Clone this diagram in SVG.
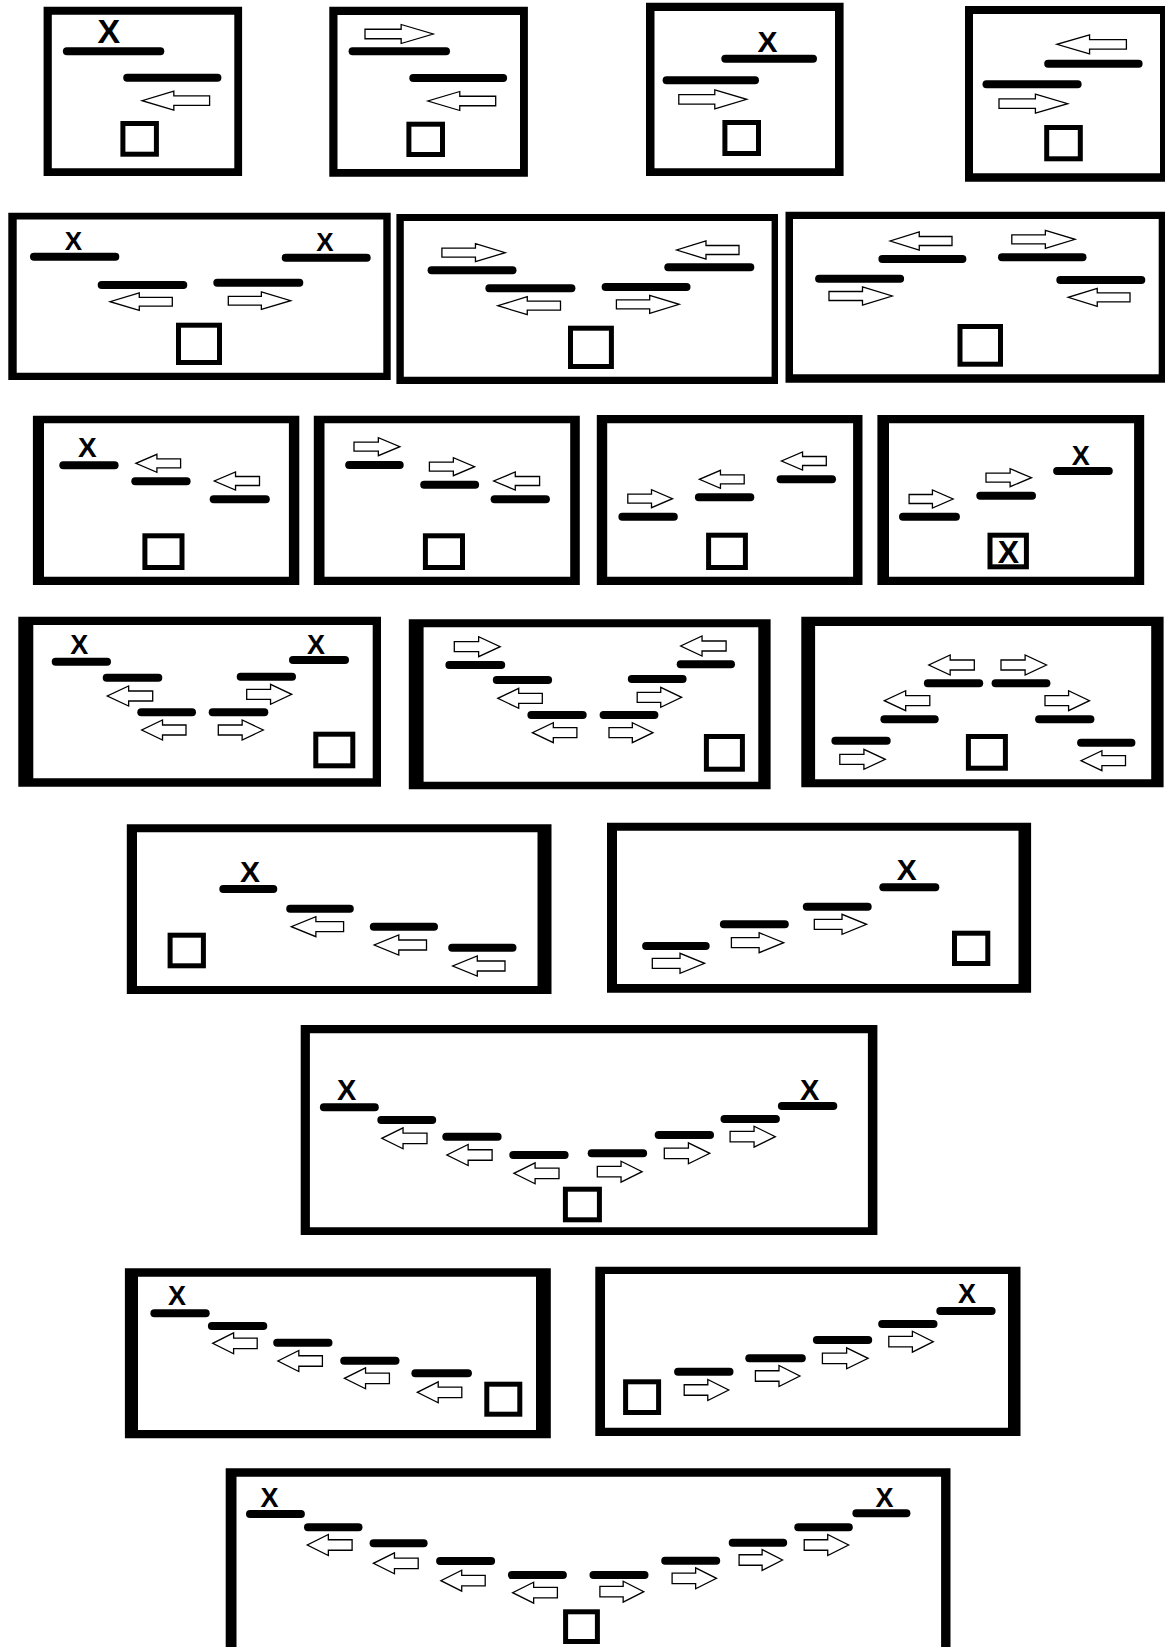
<svg xmlns="http://www.w3.org/2000/svg" xmlns:xlink="http://www.w3.org/1999/xlink" width="1165" height="1647" viewBox="0 0 1165 1647">
<style>
.f{fill:#000;fill-rule:evenodd}
.b{stroke:#000;stroke-width:8;stroke-linecap:round;fill:none}
.s{fill:#fff;stroke:#000;stroke-width:5}
.x{font-family:"Liberation Sans",Arial,sans-serif;font-weight:bold;fill:#000;text-anchor:middle}
</style>
<defs>
<path id="R" d="M0,-0.25 H0.53 V-0.5 L1,0 L0.53,0.5 V0.25 H0 Z" fill="#fff" stroke="#000" stroke-width="1.3" vector-effect="non-scaling-stroke"/>
<path id="L" d="M1,-0.25 H0.47 V-0.5 L0,0 L0.47,0.5 V0.25 H1 Z" fill="#fff" stroke="#000" stroke-width="1.3" vector-effect="non-scaling-stroke"/>
</defs>
<rect width="1165" height="1647" fill="#fff"/>

<g id="panel-1">
<path class="f" d="M43.6,6.7H242.1V176H43.6Z M51.8,14.7V168.3H234.3V14.7Z"/>
<text class="x" x="108.9" y="42.7" font-size="34">X</text>
<line class="b" x1="66.9" y1="51.3" x2="160.3" y2="51.3"/>
<line class="b" x1="127.2" y1="77.7" x2="217.4" y2="77.7"/>
<use href="#L" transform="translate(142.1,100.7) scale(67.5,19)"/>
<rect class="s" x="122.9" y="123.5" width="33.5" height="30.7"/>
</g>

<g id="panel-2">
<path class="f" d="M329.3,6.7H527.9V176.7H329.3Z M337.5,15V169H520V15Z"/>
<use href="#R" transform="translate(365,34) scale(68.2,19)"/>
<line class="b" x1="352.6" y1="51.3" x2="446" y2="51.3"/>
<line class="b" x1="413.3" y1="78" x2="503.1" y2="78"/>
<use href="#L" transform="translate(427.9,101) scale(67.8,19)"/>
<rect class="s" x="408.9" y="124.2" width="33.6" height="30.3"/>
</g>

<g id="panel-3">
<path class="f" d="M646,2.7H843.6V176H646Z M654.5,11V168.3H835V11Z"/>
<text class="x" x="767.6" y="51.7" font-size="30">X</text>
<line class="b" x1="725.3" y1="58.7" x2="813" y2="58.7"/>
<line class="b" x1="666.6" y1="80.3" x2="755" y2="80.3"/>
<use href="#R" transform="translate(678.8,99.3) scale(67.9,19)"/>
<rect class="s" x="724.9" y="122.5" width="33.6" height="31"/>
</g>

<g id="panel-4">
<path class="f" d="M965,6H1170V181.7H965Z M973,14V173.3H1160V14Z"/>
<use href="#L" transform="translate(1056.9,44.3) scale(69.5,19)"/>
<line class="b" x1="1048.2" y1="63.7" x2="1138.6" y2="63.7"/>
<line class="b" x1="986.5" y1="84.3" x2="1077.6" y2="84.3"/>
<use href="#R" transform="translate(999,103.7) scale(68.7,19)"/>
<rect class="s" x="1046.7" y="127.5" width="33.6" height="31.3"/>
</g>

<g id="panel-5">
<path class="f" d="M8.3,212.7H390.7V380H8.3Z M16.7,219.5V372.7H383.3V219.5Z"/>
<text class="x" x="73.3" y="250" font-size="26">X</text>
<text class="x" x="325" y="251" font-size="26">X</text>
<line class="b" x1="34" y1="256.7" x2="115.3" y2="256.7"/>
<line class="b" x1="285.7" y1="257.7" x2="366.7" y2="257.7"/>
<line class="b" x1="101.7" y1="285" x2="183.3" y2="285"/>
<line class="b" x1="217.3" y1="282.7" x2="299.3" y2="282.7"/>
<use href="#L" transform="translate(110,301.7) scale(62.3,17.5)"/>
<use href="#R" transform="translate(228.3,300.7) scale(62.4,17.5)"/>
<rect class="s" x="178.5" y="325.2" width="41" height="37.3"/>
</g>

<g id="panel-6">
<path class="f" d="M396.4,214H778V384H396.4Z M403.8,221V376.7H771.6V221Z"/>
<use href="#R" transform="translate(441.9,252.7) scale(63.3,18)"/>
<use href="#L" transform="translate(676.7,250) scale(62.3,18)"/>
<line class="b" x1="431.6" y1="270.3" x2="512.5" y2="270.3"/>
<line class="b" x1="668.3" y1="267.3" x2="750.3" y2="267.3"/>
<line class="b" x1="489.4" y1="288.3" x2="571.4" y2="288.3"/>
<line class="b" x1="605.6" y1="287" x2="686.5" y2="287"/>
<use href="#L" transform="translate(497.8,305.7) scale(62.7,18)"/>
<use href="#R" transform="translate(616.4,304.3) scale(62.8,18)"/>
<rect class="s" x="570.5" y="328.2" width="40.9" height="38.3"/>
</g>

<g id="panel-7">
<path class="f" d="M785.5,211.7H1170V382.7H785.5Z M793,219V374.3H1158.7V219Z"/>
<use href="#L" transform="translate(890.2,241) scale(61.8,18)"/>
<use href="#R" transform="translate(1011.8,239.3) scale(63.3,18)"/>
<line class="b" x1="882.4" y1="259" x2="962.4" y2="259"/>
<line class="b" x1="1002" y1="257.3" x2="1082.5" y2="257.3"/>
<line class="b" x1="819.1" y1="278.7" x2="900.1" y2="278.7"/>
<line class="b" x1="1060.3" y1="280" x2="1141.3" y2="280"/>
<use href="#R" transform="translate(829,296) scale(63.2,18)"/>
<use href="#L" transform="translate(1068.2,297.3) scale(61.8,18)"/>
<rect class="s" x="960" y="326.5" width="40.5" height="37.7"/>
</g>

<g id="panel-8">
<path class="f" d="M32.9,415.7H299.3V585H32.9Z M44,423.3V576.7H288.9V423.3Z"/>
<text class="x" x="87.3" y="457.3" font-size="28">X</text>
<line class="b" x1="63.3" y1="465.3" x2="114.6" y2="465.3"/>
<use href="#L" transform="translate(135.9,463.3) scale(44.7,18)"/>
<line class="b" x1="135.3" y1="481.3" x2="186.6" y2="481.3"/>
<use href="#L" transform="translate(214.3,481) scale(45.2,18)"/>
<line class="b" x1="213.7" y1="499.3" x2="265.8" y2="499.3"/>
<rect class="s" x="144.9" y="535.8" width="37.1" height="31.7"/>
</g>

<g id="panel-9">
<path class="f" d="M313.8,415.7H579.8V585H313.8Z M324.5,423.3V576.7H570.2V423.3Z"/>
<use href="#R" transform="translate(354,446.7) scale(45.9,18)"/>
<line class="b" x1="349.2" y1="465" x2="399.7" y2="465"/>
<use href="#R" transform="translate(429.4,466.7) scale(45.2,18)"/>
<line class="b" x1="424.2" y1="484.7" x2="475.1" y2="484.7"/>
<use href="#L" transform="translate(493.7,481) scale(45.9,18)"/>
<line class="b" x1="494.6" y1="499.3" x2="545.9" y2="499.3"/>
<rect class="s" x="425.4" y="535.8" width="37.1" height="31.7"/>
</g>

<g id="panel-10">
<path class="f" d="M596.8,415H862.5V585H596.8Z M607.2,423.3V576.7H853.1V423.3Z"/>
<use href="#R" transform="translate(627.8,498.7) scale(44.7,18)"/>
<line class="b" x1="622.4" y1="516.7" x2="673.8" y2="516.7"/>
<use href="#L" transform="translate(699.4,479.3) scale(44.8,18)"/>
<line class="b" x1="698.9" y1="497.3" x2="750.3" y2="497.3"/>
<use href="#L" transform="translate(781.5,461) scale(44.8,18)"/>
<line class="b" x1="780.6" y1="479.3" x2="832" y2="479.3"/>
<rect class="s" x="708.6" y="535.2" width="36.8" height="32.3"/>
</g>

<g id="panel-11">
<path class="f" d="M877.4,415H1144.2V585H877.4Z M889,423.3V576.7H1134.1V423.3Z"/>
<text class="x" x="1080.7" y="464.5" font-size="27">X</text>
<line class="b" x1="1057.1" y1="471" x2="1108.8" y2="471"/>
<use href="#R" transform="translate(986,477.7) scale(45.5,18)"/>
<line class="b" x1="980.3" y1="495.7" x2="1032" y2="495.7"/>
<use href="#R" transform="translate(909.1,499) scale(44,18)"/>
<line class="b" x1="903" y1="516.7" x2="955.9" y2="516.7"/>
<rect class="s" x="990" y="535.2" width="36.4" height="31.6"/>
<text class="x" x="1008.4" y="563.3" font-size="32">X</text>
</g>

<g id="panel-12">
<path class="f" d="M18.3,616.7H381V786.7H18.3Z M33.3,625V778.3H372.7V625Z"/>
<text class="x" x="79.3" y="654" font-size="27">X</text>
<text class="x" x="316" y="653.5" font-size="27">X</text>
<line class="b" x1="55.7" y1="661.7" x2="107" y2="661.7"/>
<line class="b" x1="106.7" y1="677.7" x2="158.3" y2="677.7"/>
<line class="b" x1="141.3" y1="712.3" x2="192" y2="712.3"/>
<line class="b" x1="212.7" y1="712.3" x2="264.3" y2="712.3"/>
<line class="b" x1="240.7" y1="676.7" x2="292" y2="676.7"/>
<line class="b" x1="293" y1="660" x2="345" y2="660"/>
<use href="#L" transform="translate(107.3,696) scale(45.4,20)"/>
<use href="#L" transform="translate(141.7,730) scale(44.3,20)"/>
<use href="#R" transform="translate(246.7,694.3) scale(45,20)"/>
<use href="#R" transform="translate(218.3,730) scale(45,20)"/>
<rect class="s" x="315.8" y="734.2" width="37" height="31.6"/>
</g>

<g id="panel-13">
<path class="f" d="M408.8,619.3H770.6V789.3H408.8Z M423.6,627.3V781.7H758.3V627.3Z"/>
<use href="#R" transform="translate(454.3,646.7) scale(45.9,20)"/>
<use href="#L" transform="translate(680.7,646) scale(45.4,20)"/>
<line class="b" x1="449.4" y1="665" x2="501.2" y2="665"/>
<line class="b" x1="496.8" y1="680" x2="548.1" y2="680"/>
<line class="b" x1="531.4" y1="715" x2="582.7" y2="715"/>
<line class="b" x1="603.6" y1="715" x2="654.4" y2="715"/>
<line class="b" x1="631.8" y1="679" x2="682.6" y2="679"/>
<line class="b" x1="680.7" y1="664.3" x2="731" y2="664.3"/>
<use href="#L" transform="translate(497.8,698.3) scale(44.5,20)"/>
<use href="#L" transform="translate(532.4,732.7) scale(44.5,20)"/>
<use href="#R" transform="translate(609,732.7) scale(44,20)"/>
<use href="#R" transform="translate(637.2,697.3) scale(44.4,20)"/>
<rect class="s" x="706.4" y="736.5" width="36" height="32.7"/>
</g>

<g id="panel-14">
<path class="f" d="M801.3,616.7H1163.6V787.3H801.3Z M815.1,626V779.3H1151.2V626Z"/>
<use href="#L" transform="translate(928.8,665) scale(45.5,20)"/>
<use href="#R" transform="translate(1001,665) scale(45.5,20)"/>
<line class="b" x1="927.9" y1="683.3" x2="979.2" y2="683.3"/>
<line class="b" x1="995.6" y1="683.3" x2="1046.4" y2="683.3"/>
<use href="#L" transform="translate(884.3,700.7) scale(45.5,20)"/>
<use href="#R" transform="translate(1045,700.7) scale(44.5,20)"/>
<line class="b" x1="884.4" y1="719.3" x2="934.7" y2="719.3"/>
<line class="b" x1="1039.1" y1="719.3" x2="1090.4" y2="719.3"/>
<line class="b" x1="835.4" y1="740.7" x2="886.7" y2="740.7"/>
<line class="b" x1="1081.1" y1="742.7" x2="1131.4" y2="742.7"/>
<use href="#R" transform="translate(839.8,759.3) scale(45.5,20)"/>
<use href="#L" transform="translate(1081,760.7) scale(44.5,20)"/>
<rect class="s" x="968.4" y="736.5" width="37" height="31.7"/>
</g>

<g id="panel-15">
<path class="f" d="M126.8,824.3H551.5V994H126.8Z M137,832.3V986H537.5V832.3Z"/>
<text class="x" x="249.9" y="881.7" font-size="30">X</text>
<line class="b" x1="223.3" y1="889" x2="273.3" y2="889"/>
<line class="b" x1="290.2" y1="908.7" x2="349.8" y2="908.7"/>
<use href="#L" transform="translate(291.3,926.7) scale(52.3,20)"/>
<line class="b" x1="373.8" y1="926.7" x2="434" y2="926.7"/>
<use href="#L" transform="translate(374.2,945) scale(52.3,20)"/>
<line class="b" x1="452.2" y1="947.7" x2="512.5" y2="947.7"/>
<use href="#L" transform="translate(452.7,966) scale(52.3,20)"/>
<rect class="s" x="170.1" y="935.2" width="33.3" height="30.6"/>
</g>

<g id="panel-16">
<path class="f" d="M607,822.7H1031.1V992.7H607Z M617,830.7V984H1018.5V830.7Z"/>
<text class="x" x="906.8" y="880" font-size="30">X</text>
<line class="b" x1="883.3" y1="887.3" x2="935.3" y2="887.3"/>
<line class="b" x1="806.8" y1="906.7" x2="867.7" y2="906.7"/>
<use href="#R" transform="translate(814.3,924.3) scale(52.3,20)"/>
<line class="b" x1="723.9" y1="924.3" x2="784.8" y2="924.3"/>
<use href="#R" transform="translate(731.4,942.7) scale(52.3,20)"/>
<line class="b" x1="646.1" y1="946" x2="705.7" y2="946"/>
<use href="#R" transform="translate(652.3,963.3) scale(52.3,20)"/>
<rect class="s" x="954.5" y="933.2" width="33.3" height="30.3"/>
</g>

<g id="panel-17">
<path class="f" d="M300.7,1025H877.4V1235H300.7Z M309.9,1033.3V1227.3H867.9V1033.3Z"/>
<text class="x" x="346.6" y="1100" font-size="29">X</text>
<text class="x" x="809.7" y="1100" font-size="29">X</text>
<line class="b" x1="323.9" y1="1107.3" x2="374.8" y2="1107.3"/>
<line class="b" x1="381.3" y1="1120" x2="432.2" y2="1120"/>
<line class="b" x1="446.3" y1="1136.7" x2="497.6" y2="1136.7"/>
<line class="b" x1="513.3" y1="1155" x2="564.6" y2="1155"/>
<line class="b" x1="591.7" y1="1153.3" x2="643.1" y2="1153.3"/>
<line class="b" x1="658.7" y1="1135" x2="710" y2="1135"/>
<line class="b" x1="724.5" y1="1119" x2="775.9" y2="1119"/>
<line class="b" x1="781.9" y1="1106" x2="833.3" y2="1106"/>
<use href="#L" transform="translate(381.8,1138.3) scale(45.2,21)"/>
<use href="#L" transform="translate(446.9,1155) scale(45.2,21)"/>
<use href="#L" transform="translate(513.9,1173.3) scale(45.1,21)"/>
<use href="#R" transform="translate(597.3,1171.7) scale(44.8,21)"/>
<use href="#R" transform="translate(664.3,1153.3) scale(45.5,21)"/>
<use href="#R" transform="translate(730.1,1136.7) scale(45.2,21)"/>
<rect class="s" x="565.4" y="1189.2" width="34" height="30.6"/>
</g>

<g id="panel-18">
<path class="f" d="M124.9,1268.3H550.8V1438.3H124.9Z M138,1276.7V1430H536V1276.7Z"/>
<text class="x" x="177.1" y="1305" font-size="27">X</text>
<line class="b" x1="154.4" y1="1313.3" x2="205.7" y2="1313.3"/>
<line class="b" x1="211.9" y1="1326" x2="263.3" y2="1326"/>
<line class="b" x1="277.2" y1="1342.7" x2="328.5" y2="1342.7"/>
<line class="b" x1="344.2" y1="1360.7" x2="395.5" y2="1360.7"/>
<line class="b" x1="415.4" y1="1373.3" x2="467.9" y2="1373.3"/>
<use href="#L" transform="translate(212.7,1343.3) scale(44.5,21)"/>
<use href="#L" transform="translate(277.9,1361) scale(44.5,21)"/>
<use href="#L" transform="translate(344.4,1378.3) scale(45,21)"/>
<use href="#L" transform="translate(417.3,1392.3) scale(44.5,21)"/>
<rect class="s" x="486.8" y="1384.2" width="33" height="30"/>
</g>

<g id="panel-19">
<path class="f" d="M595.3,1266.7H1020.5V1436H595.3Z M605,1274V1427.7H1008V1274Z"/>
<text class="x" x="967.1" y="1303.3" font-size="27">X</text>
<line class="b" x1="940.3" y1="1311" x2="991.6" y2="1311"/>
<line class="b" x1="882.2" y1="1324" x2="933.5" y2="1324"/>
<line class="b" x1="816.9" y1="1340" x2="868.2" y2="1340"/>
<line class="b" x1="749.3" y1="1358.3" x2="801.8" y2="1358.3"/>
<line class="b" x1="678.1" y1="1371.7" x2="729.5" y2="1371.7"/>
<use href="#R" transform="translate(888.8,1341.7) scale(44.5,21)"/>
<use href="#R" transform="translate(822.4,1358.3) scale(45.7,21)"/>
<use href="#R" transform="translate(755.4,1376) scale(44.5,21)"/>
<use href="#R" transform="translate(684.2,1390) scale(44.5,21)"/>
<rect class="s" x="625.6" y="1381.8" width="33" height="30.7"/>
</g>

<g id="panel-20">
<path class="f" d="M225.7,1468.3H950.5V1660H225.7Z M236.5,1476.7V1660H941.1V1476.7Z"/>
<text class="x" x="269.6" y="1506.7" font-size="27">X</text>
<text class="x" x="884.5" y="1506.7" font-size="27">X</text>
<line class="b" x1="250" y1="1514" x2="300.9" y2="1514"/>
<line class="b" x1="308" y1="1527.3" x2="358.5" y2="1527.3"/>
<line class="b" x1="373.6" y1="1543.3" x2="423.6" y2="1543.3"/>
<line class="b" x1="440.1" y1="1561" x2="491.1" y2="1561"/>
<line class="b" x1="511.9" y1="1575" x2="562.9" y2="1575"/>
<line class="b" x1="593.5" y1="1575" x2="644.5" y2="1575"/>
<line class="b" x1="665.2" y1="1560.7" x2="716.2" y2="1560.7"/>
<line class="b" x1="732.7" y1="1542.7" x2="783.2" y2="1542.7"/>
<line class="b" x1="798.3" y1="1527.3" x2="848.8" y2="1527.3"/>
<line class="b" x1="856.4" y1="1513.3" x2="906.4" y2="1513.3"/>
<use href="#L" transform="translate(307.3,1545) scale(44.8,21)"/>
<use href="#L" transform="translate(373.4,1563.3) scale(44.8,21)"/>
<use href="#L" transform="translate(440.9,1580.7) scale(44.3,21)"/>
<use href="#L" transform="translate(512.6,1592.7) scale(44.8,21)"/>
<use href="#R" transform="translate(599.9,1591.7) scale(43.9,21)"/>
<use href="#R" transform="translate(672.1,1578.3) scale(44.4,21)"/>
<use href="#R" transform="translate(739.1,1560) scale(43.4,21)"/>
<use href="#R" transform="translate(804.2,1545) scale(44.4,21)"/>
<rect class="s" x="565.6" y="1611.8" width="31.8" height="29.7"/>
</g>

<g id="connectors"></g>
</svg>
